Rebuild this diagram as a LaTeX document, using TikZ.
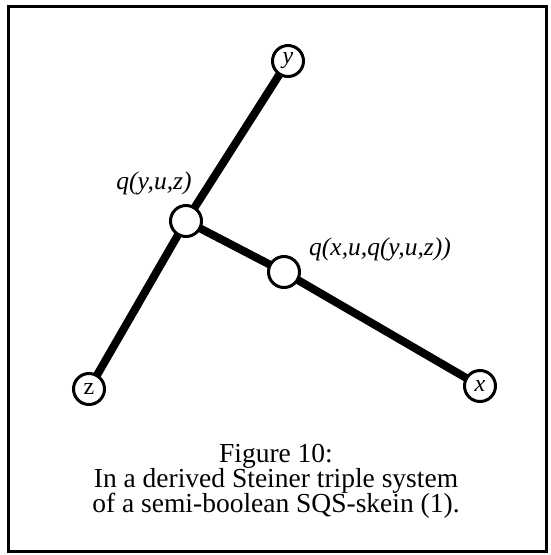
\documentclass[tikz,border=0pt]{standalone}
\usepackage{fontspec}
\setmainfont{Liberation Serif}
\newcommand{\mycapfont}{\fontsize{27.5}{28.5}\selectfont}
\begin{document}
\begin{tikzpicture}[x=1pt,y=-1pt,
  vtx/.style={circle,draw=black,line width=3pt,fill=white,inner sep=0pt,minimum size=31pt,font=\fontsize{24}{24}\selectfont\itshape},
  hub/.style={circle,draw=black,line width=3pt,fill=white,inner sep=0pt,minimum size=31pt},
  edgeline/.style={line width=8pt},
  lbl/.style={font=\fontsize{25.5}{27}\selectfont\itshape,inner sep=0pt},
  captext/.style={font=\mycapfont,align=center,inner sep=0pt}]
\useasboundingbox (0,0) rectangle (550,555);
\draw[line width=3pt] (8,6) rectangle (546,551);
\coordinate (py) at (288,61);
\coordinate (pq) at (186,221);
\coordinate (pz) at (89,389);
\coordinate (pm) at (284,272);
\coordinate (px) at (480,386);
\draw[edgeline] (py) -- (pq) -- (pz);
\draw[edgeline] (pq) -- (pm) -- (px);
\node[vtx] (y) at (py) {y};
\node[vtx] (z) at (pz) {\upshape z};
\node[vtx] (x) at (px) {x};
\node[hub] (q) at (pq) {};
\node[hub] (m) at (pm) {};
\node[lbl] (lq) at (154,183) {q(y,u,z)};
\node[lbl] (lm) at (380,249) {q(x,u,q(y,u,z))};
\node[captext,anchor=base] (c) at (276,512) {Figure 10:\\[-3.5pt]In a derived Steiner triple system\\[-3.5pt]of a semi-boolean SQS-skein (1).};
\end{tikzpicture}
\end{document}
